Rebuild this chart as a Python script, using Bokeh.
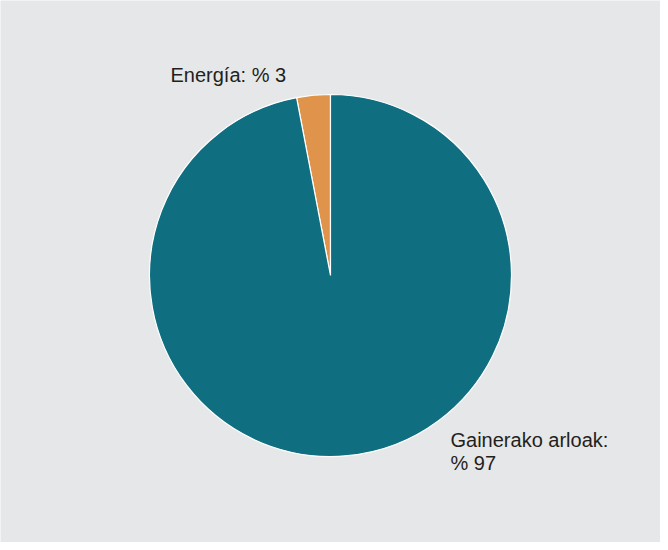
import math
from bokeh.plotting import figure
from bokeh.models import ColumnDataSource, Label, Range1d
from bokeh.embed import file_html
from bokeh.resources import INLINE

categories = ["Energía", "Gainerako arloak"]
shares = [3, 97]
label_texts = ["Energía: % 3", "Gainerako arloak:", "% 97"]
colors = ["#e0944b", "#0f6e80"]

W, H = 660, 542
p = figure(width=W, height=H, output_backend="svg", toolbar_location=None,
           x_range=Range1d(0, W), y_range=Range1d(0, H),
           min_border=0, min_border_left=0, min_border_right=0,
           min_border_top=0, min_border_bottom=0)
p.axis.visible = False
p.grid.visible = False
p.outline_line_color = None
p.background_fill_color = "#e6e7e8"
p.border_fill_color = "#e6e7e8"

total = float(sum(shares))
starts, ends = [], []
acc = 0.0
for s in shares:
    starts.append(math.pi / 2 + 2 * math.pi * acc / total)
    acc += s
    ends.append(math.pi / 2 + 2 * math.pi * acc / total)

src = ColumnDataSource(dict(cat=categories, val=shares, start=starts, end=ends, color=colors))
p.wedge(x=330, y=267, radius=181, start_angle="start", end_angle="end",
        fill_color="color", line_color="white", line_width=1.2, source=src)

font = "Liberation Sans"
common = dict(text_font=font, text_font_size="20px", text_color="#231f20",
              text_baseline="middle", text_align="left")
p.add_layout(Label(x=170, y=468, text=label_texts[0], **common))
p.add_layout(Label(x=450, y=103, text=label_texts[1], **common))
p.add_layout(Label(x=450, y=80, text=label_texts[2], **common))

open("out.html", "w").write(file_html(p, INLINE))
